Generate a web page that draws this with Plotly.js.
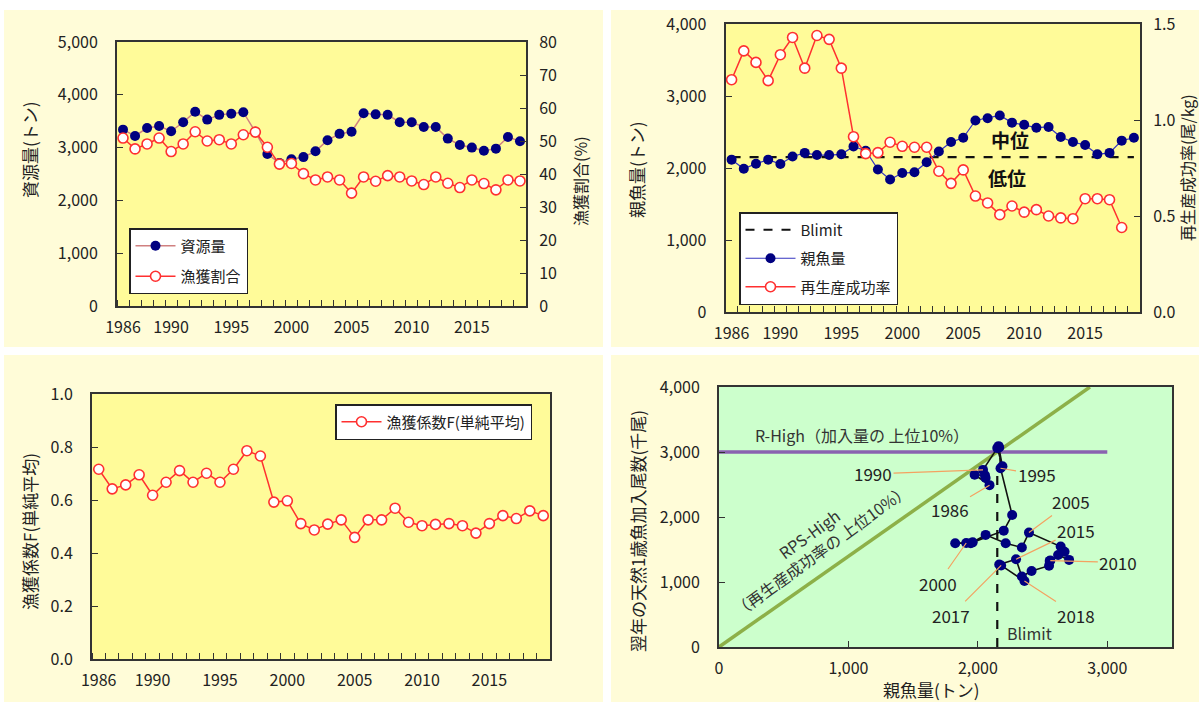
<!DOCTYPE html>
<html><head><meta charset="utf-8">
<script src="https://cdn.plot.ly/plotly-3.0.1.min.js"></script>
<style>html,body{margin:0;padding:0;background:#fff}#chart{width:1199px;height:702px}</style>
</head><body><div id="chart"></div>
<script>
// ---------- data ----------
const years = [1986,1987,1988,1989,1990,1991,1992,1993,1994,1995,1996,1997,1998,1999,2000,2001,2002,2003,2004,2005,2006,2007,2008,2009,2010,2011,2012,2013,2014,2015,2016,2017,2018,2019];
const tickYears = [1986,1990,1995,2000,2005,2010,2015];
// 資源量 (トン)
const biomass = [3340,3220,3370,3410,3310,3480,3680,3530,3620,3640,3670,3300,2880,2710,2780,2820,2930,3140,3260,3300,3650,3630,3620,3480,3480,3390,3390,3170,3050,3000,2940,2980,3200,3120];
// 漁獲割合 (%)
const exploitRate = [50.9,47.6,49.1,50.9,46.8,49.1,52.8,50.0,50.4,49.1,51.9,52.7,48.1,43.0,43.2,40.1,38.2,39.1,38.2,34.2,39.1,37.8,39.5,39.1,37.9,36.8,39.1,37.2,35.9,38.2,37.1,35.2,38.2,37.9];
// 親魚量 (トン)
const ssb = [2116,1990,2060,2116,2056,2160,2210,2180,2180,2190,2300,2240,1980,1840,1930,1940,2080,2230,2360,2420,2660,2690,2730,2630,2600,2560,2570,2430,2360,2320,2190,2210,2380,2420];
// 再生産成功率 (尾/kg), 1986-2018
const rpsYears = [1986,1987,1988,1989,1990,1991,1992,1993,1994,1995,1996,1997,1998,1999,2000,2001,2002,2003,2004,2005,2006,2007,2008,2009,2010,2011,2012,2013,2014,2015,2016,2017,2018];
const rps = [1.21,1.36,1.30,1.205,1.34,1.43,1.27,1.44,1.42,1.27,0.913,0.825,0.83,0.884,0.863,0.858,0.858,0.733,0.67,0.74,0.604,0.568,0.507,0.552,0.52,0.533,0.50,0.49,0.486,0.59,0.59,0.585,0.44];
const blimit = 2150;
const blimitYears = [1986, 2019];
// 漁獲係数F(単純平均)
const fishingF = [0.716,0.642,0.657,0.695,0.618,0.667,0.711,0.667,0.701,0.667,0.716,0.786,0.766,0.592,0.597,0.511,0.487,0.509,0.525,0.459,0.525,0.525,0.569,0.516,0.503,0.508,0.511,0.503,0.475,0.511,0.541,0.530,0.559,0.541];
// 再生産関係 (親魚量 vs 翌年の天然1歳魚加入尾数)
const srYears = rpsYears;
const srSpawn = [2090,1975,2055,2060,2040,2150,2190,2160,2165,2175,2265,2200,1960,1825,1910,1945,2060,2215,2340,2395,2640,2670,2705,2620,2560,2555,2550,2415,2340,2295,2165,2180,2360];
const srRecruit = [2490,2650,2640,2600,2725,3060,2780,3090,3070,2750,2030,1790,1610,1595,1600,1595,1725,1595,1530,1760,1545,1465,1340,1415,1330,1325,1250,1170,1085,1350,1270,1255,1015];
const srLabelYears = [1986,1990,1995,2000,2005,2010,2015,2017,2018];
const rHighX = [0, 3000], rHighY = [3000, 3000];
const rpsHighX = [0, 2866], rpsHighY = [0, 4000];
const blimitSrX = [blimit, blimit], blimitSrY = [0, 2700];

// ---------- styles ----------
const W = 1199, H = 702;
const FONT = '"Noto Sans CJK JP", "Noto Sans", sans-serif';
const INK = '#222';
const AX = '#333333';
const px = (x) => x / W;
const py = (y) => 1 - y / H;
const NAVY = '#000080';
const RED = '#FF3030';
const redMarker = {symbol:'circle', size:10, color:'#ffffff', line:{color:RED, width:1.6}};
const navyMarker = {symbol:'circle', size:10, color:NAVY, line:{width:0}};

const dom = {
  p1x:[px(117), px(526)], p1y:[py(306), py(42)],
  p2x:[px(725.5), px(1140)], p2y:[py(312), py(24)],
  p3x:[px(92), px(550)], p3y:[py(659), py(394)],
  p4x:[px(719), px(1172)], p4y:[py(647), py(387)]
};

function yearAxis(domain, anchor){
  return {domain, anchor, range:[1985.5, 2019.5], tickmode:'array', tickvals:tickYears,
    ticks:'', showline:true, mirror:true, linecolor:AX, linewidth:2, showgrid:false, zeroline:false,
    tickfont:{size:16, color:INK}, ticklabelstandoff:6,
    minor:{tickmode:'linear', tick0:1985.5, dtick:1, ticks:'inside', ticklen:6, tickcolor:AX, tickwidth:1}};
}
function valAxis(domain, anchor, range, dtick, fmt, extra){
  return Object.assign({domain, anchor, range, dtick, tickmode:'linear', tick0:0, tickformat:fmt,
    ticks:'inside', ticklen:6, tickcolor:AX, showline:true, linecolor:AX, linewidth:2,
    showgrid:false, zeroline:false, tickfont:{size:16, color:INK}, ticklabelstandoff:14}, extra||{});
}

const traces = [
  // panel 1
  {x:years, y:biomass, xaxis:'x', yaxis:'y', name:'資源量', mode:'lines+markers',
   line:{color:'#D08080', width:1.5}, marker:navyMarker, legend:'legend', legendgroup:'a'},
  {x:years, y:exploitRate, xaxis:'x', yaxis:'y2', name:'漁獲割合', mode:'lines+markers',
   line:{color:RED, width:1.5}, marker:redMarker, legend:'legend', legendgroup:'b'},
  // panel 2
  {x:blimitYears, y:[blimit, blimit], xaxis:'x2', yaxis:'y3', name:'Blimit', mode:'lines',
   line:{color:'#111', width:2.2, dash:'dash'}, legend:'legend2', legendgroup:'c'},
  {x:years, y:ssb, xaxis:'x2', yaxis:'y3', name:'親魚量', mode:'lines+markers',
   line:{color:'#3535C0', width:1.2}, marker:navyMarker, legend:'legend2', legendgroup:'d'},
  {x:rpsYears, y:rps, xaxis:'x2', yaxis:'y4', name:'再生産成功率', mode:'lines+markers',
   line:{color:RED, width:1.5}, marker:redMarker, legend:'legend2', legendgroup:'e'},
  // panel 3
  {x:years, y:fishingF, xaxis:'x3', yaxis:'y5', name:'漁獲係数F(単純平均)', mode:'lines+markers',
   line:{color:RED, width:1.5}, marker:redMarker, legend:'legend3'},
  // panel 4
  {x:rHighX, y:rHighY, xaxis:'x4', yaxis:'y6', mode:'lines', line:{color:'#8A62B0', width:3.5}, showlegend:false},
  {x:rpsHighX, y:rpsHighY, xaxis:'x4', yaxis:'y6', mode:'lines', line:{color:'#8DB048', width:3.5}, showlegend:false},
  {x:blimitSrX, y:blimitSrY, xaxis:'x4', yaxis:'y6', mode:'lines', line:{color:'#111', width:2.2, dash:'dash'}, showlegend:false},
  {x:srSpawn, y:srRecruit, xaxis:'x4', yaxis:'y6', mode:'lines+markers', line:{color:'#111', width:1.6},
   marker:navyMarker, showlegend:false}
];

const shapes = [
  // panel backgrounds
  {type:'rect', xref:'paper', yref:'paper', x0:px(4), x1:px(603), y0:py(347), y1:py(10), fillcolor:'#FFFCD8', line:{width:0}, layer:'below'},
  {type:'rect', xref:'paper', yref:'paper', x0:px(611), x1:px(1199), y0:py(347), y1:py(10), fillcolor:'#FFFCD8', line:{width:0}, layer:'below'},
  {type:'rect', xref:'paper', yref:'paper', x0:px(4), x1:px(603), y0:py(702), y1:py(355), fillcolor:'#FFFCD8', line:{width:0}, layer:'below'},
  {type:'rect', xref:'paper', yref:'paper', x0:px(611), x1:px(1199), y0:py(702), y1:py(355), fillcolor:'#FFFCD8', line:{width:0}, layer:'below'},
  // plot areas
  {type:'rect', xref:'paper', yref:'paper', x0:dom.p1x[0], x1:dom.p1x[1], y0:dom.p1y[0], y1:dom.p1y[1], fillcolor:'#FFFB99', line:{width:0}, layer:'below'},
  {type:'rect', xref:'paper', yref:'paper', x0:dom.p2x[0], x1:dom.p2x[1], y0:dom.p2y[0], y1:dom.p2y[1], fillcolor:'#FFFB99', line:{width:0}, layer:'below'},
  {type:'rect', xref:'paper', yref:'paper', x0:dom.p3x[0], x1:dom.p3x[1], y0:dom.p3y[0], y1:dom.p3y[1], fillcolor:'#FFFB99', line:{width:0}, layer:'below'},
  {type:'rect', xref:'paper', yref:'paper', x0:dom.p4x[0], x1:dom.p4x[1], y0:dom.p4y[0], y1:dom.p4y[1], fillcolor:'#CCFFCC', line:{width:0}, layer:'below'}
];

function vTitle(text, x, y, size){
  return {text, xref:'paper', yref:'paper', x:px(x), y:py(y), showarrow:false, textangle:-90,
    font:{size:size||16, color:INK}, xanchor:'center', yanchor:'middle'};
}
const annotations = [
  vTitle('資源量(トン)', 29, 150, 17),
  vTitle('漁獲割合(%)', 580, 181, 16),
  vTitle('親魚量(トン)', 636, 170, 17),
  vTitle('再生産成功率(尾/kg)', 1187, 168, 16),
  vTitle('漁獲係数F(単純平均)', 29, 532, 17),
  vTitle('翌年の天然1歳魚加入尾数(千尾)', 637, 531, 17),
  {text:'親魚量(トン)', xref:'paper', yref:'paper', x:px(932), y:py(689), xanchor:'center', yanchor:'middle',
   showarrow:false, font:{size:17, color:INK}},
  {text:'<b>中位</b>', xref:'x2', yref:'y3', x:2008.8, y:2390, xanchor:'center', yanchor:'middle', showarrow:false, font:{size:19, color:'#111'}},
  {text:'<b>低位</b>', xref:'x2', yref:'y3', x:2008.6, y:1865, xanchor:'center', yanchor:'middle', showarrow:false, font:{size:19, color:'#111'}},
  {text:'R-High（加入量の 上位10%）', xref:'x4', yref:'y6', x:263, y:3262, xanchor:'left', yanchor:'middle', showarrow:false, font:{size:16, color:'#333'}},
  {text:'RPS-High', xref:'x4', yref:'y6', x:693, y:1738, xanchor:'center', yanchor:'middle', showarrow:false, textangle:-36, font:{size:16, color:'#333'}},
  {text:'（再生産成功率の 上位10%）', xref:'x4', yref:'y6', x:787, y:1492, xanchor:'center', yanchor:'middle', showarrow:false, textangle:-36, font:{size:16, color:'#333'}},
  {text:'Blimit', xref:'x4', yref:'y6', x:2399, y:220, xanchor:'center', yanchor:'middle', showarrow:false, font:{size:16, color:'#333'}}
];
const labelOffsets = {1986:[-40,24], 1990:[-110,4], 1995:[36,6], 2000:[-28,40], 2005:[42,-31], 2010:[68,2], 2015:[60,-29], 2017:[-50,50], 2018:[52,34]};
srLabelYears.forEach(yr => {
  const i = srYears.indexOf(yr);
  const o = labelOffsets[yr];
  annotations.push({text:String(yr), xref:'x4', yref:'y6', x:srSpawn[i], y:srRecruit[i], ax:o[0], ay:o[1],
    showarrow:true, arrowhead:0, arrowwidth:1.2, arrowcolor:'#F4A261', standoff:0,
    font:{size:17, color:'#222'}});
});

const legendBase = {bgcolor:'#ffffff', bordercolor:'#222', borderwidth:1.5, font:{size:15, color:INK},
  xanchor:'left', yanchor:'top', tracegroupgap:4, orientation:'v'};

const layout = {
  width:W, height:H, margin:{l:0,r:0,t:0,b:0}, paper_bgcolor:'#ffffff', plot_bgcolor:'rgba(0,0,0,0)',
  font:{family:FONT, color:INK}, showlegend:true,
  xaxis: yearAxis(dom.p1x, 'y'),
  yaxis: valAxis(dom.p1y, 'x', [0,5000], 1000, ',d'),
  yaxis2: valAxis(dom.p1y, 'x', [0,80], 10, 'd', {overlaying:'y', side:'right', ticklabelstandoff:8}),
  xaxis2: yearAxis(dom.p2x, 'y3'),
  yaxis3: valAxis(dom.p2y, 'x2', [0,4000], 1000, ',d'),
  yaxis4: valAxis(dom.p2y, 'x2', [0,1.5], 0.5, '.1f', {overlaying:'y3', side:'right', ticklabelstandoff:8}),
  xaxis3: yearAxis(dom.p3x, 'y5'),
  yaxis5: valAxis(dom.p3y, 'x3', [0,1], 0.2, '.1f', {mirror:true}),
  xaxis4: valAxis(dom.p4x, 'y6', [0,3500], 1000, ',d', {mirror:true, tickmode:'array', tickvals:[0,1000,2000,3000], ticklabelstandoff:6}),
  yaxis6: valAxis(dom.p4y, 'x4', [0,4000], 1000, ',d', {mirror:true}),
  legend: Object.assign({}, legendBase, {x:px(129), y:py(228), itemwidth:40, tracegroupgap:8}),
  legend2: Object.assign({}, legendBase, {x:px(739), y:py(212), itemwidth:50, tracegroupgap:6}),
  legend3: Object.assign({}, legendBase, {x:px(335), y:py(404), itemwidth:40}),
  shapes, annotations
};

Plotly.newPlot('chart', traces, layout, {displayModeBar:false, staticPlot:true});
</script>
</body></html>
